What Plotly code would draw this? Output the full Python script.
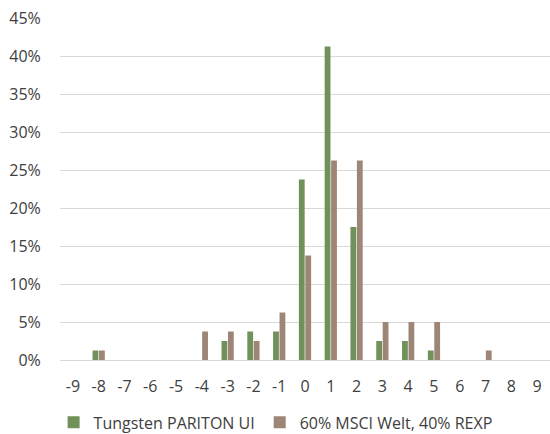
import plotly.graph_objects as go

categories = list(range(-9, 10))
tungsten = [0, 1.25, 0, 0, 0, 0, 2.5, 3.75, 3.75, 23.75, 41.25, 17.5, 2.5, 2.5, 1.25, 0, 0, 0, 0]
msci = [0, 1.25, 0, 0, 0, 3.75, 3.75, 2.5, 6.25, 13.75, 26.25, 26.25, 5, 5, 5, 0, 1.25, 0, 0]
series_names = ["Tungsten PARITON UI", "60% MSCI Welt, 40% REXP"]
y_ticks = [0, 5, 10, 15, 20, 25, 30, 35, 40, 45]

fig = go.Figure()
fig.add_trace(go.Bar(x=categories, y=[v / 100 for v in tungsten], name=series_names[0],
                     marker=dict(color="#70925A", line=dict(width=0))))
fig.add_trace(go.Bar(x=categories, y=[v / 100 for v in msci], name=series_names[1],
                     marker=dict(color="#9E8676", line=dict(width=0))))

font_color = "#404040"
fig.update_layout(
    width=550, height=434,
    margin=dict(l=60, r=0, t=18, b=74, autoexpand=False),
    paper_bgcolor="white", plot_bgcolor="white",
    font=dict(family="Open Sans", size=16, color=font_color),
    barmode="group", bargap=0.5, bargroupgap=0.1,
    showlegend=True,
    legend=dict(orientation="h", x=0.44, xanchor="center", xref="paper",
                y=0.066, yanchor="top", yref="container",
                font=dict(size=16, color=font_color), itemwidth=30, traceorder="normal"),
    xaxis=dict(tickmode="array", tickvals=categories, ticktext=[str(c) for c in categories],
               range=[-9.5, 9.5], showgrid=False, zeroline=False,
               showline=True, linecolor="#d9d9d9", linewidth=1,
               ticks="outside", ticklen=12, tickcolor="rgba(0,0,0,0)"),
    yaxis=dict(tickmode="array", tickvals=[v / 100 for v in y_ticks],
               ticktext=[f"{v}%" for v in y_ticks], range=[0, 0.45],
               showgrid=True, gridcolor="#d9d9d9", gridwidth=1, zeroline=False,
               ticks="outside", ticklen=15, tickcolor="rgba(0,0,0,0)"),
)

fig.write_html("out.html", config={"displayModeBar": False},
               post_script="document.body.style.margin='0';document.body.style.overflow='hidden';")
